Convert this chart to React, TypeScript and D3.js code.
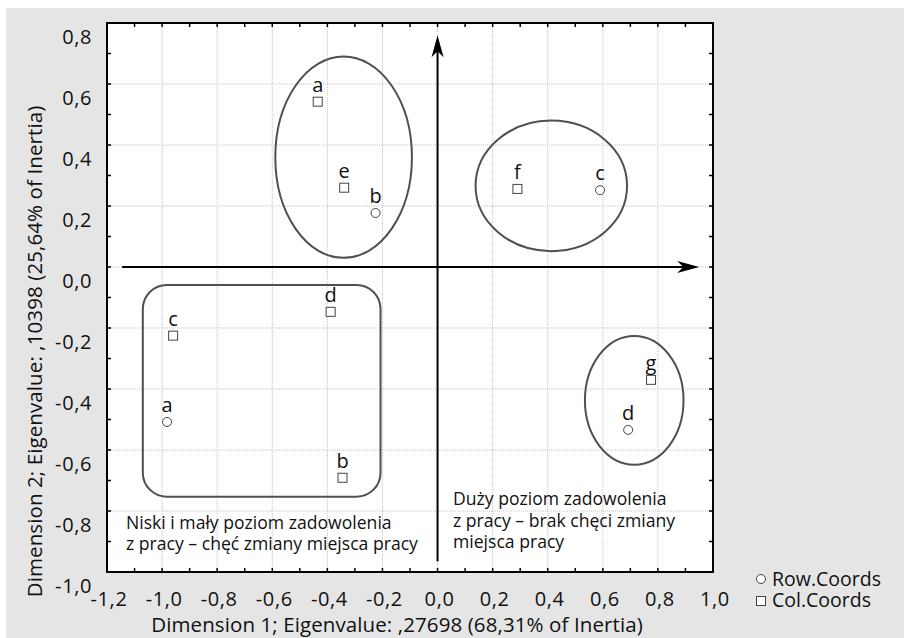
import React from "react";
import * as d3 from "d3";

const rowLabels = ["a", "b", "c", "d"];
const rowDim1 = [-0.982, -0.225, 0.59, 0.692];
const rowDim2 = [-0.508, 0.177, 0.252, -0.534];

const colLabels = ["a", "b", "c", "d", "e", "f", "g"];
const colDim1 = [-0.435, -0.345, -0.96, -0.388, -0.339, 0.29, 0.775];
const colDim2 = [0.542, -0.691, -0.225, -0.147, 0.26, 0.256, -0.37];

const xTicks = [-1.2, -1.0, -0.8, -0.6, -0.4, -0.2, 0.0, 0.2, 0.4, 0.6, 0.8, 1.0];
const yTicks = [-1.0, -0.8, -0.6, -0.4, -0.2, 0.0, 0.2, 0.4, 0.6, 0.8];

// group outlines in data units: [cx, cy, rx, ry]
const ellipses = [
  [-0.341, 0.36, 0.248, 0.33],
  [0.413, 0.266, 0.275, 0.214],
  [0.714, -0.437, 0.179, 0.211],
];
// rounded box in data units: [x0, y0, x1, y1]
const groupBox = [-1.07, -0.059, -0.207, -0.753];

const leftNote = ["Niski i mały poziom zadowolenia", "z pracy – chęć zmiany miejsca pracy"];
const rightNote = ["Duży poziom zadowolenia", "z pracy – brak chęci zmiany", "miejsca pracy"];

const xTitle = "Dimension 1; Eigenvalue: ,27698 (68,31% of Inertia)";
const yTitle = "Dimension 2; Eigenvalue: ,10398 (25,64% of Inertia)";

const FONT = "'Open Sans', sans-serif";
const fmt = (v: number) => v.toFixed(1).replace(".", ",").replace("-0,0", "0,0");

export default function App() {
  const W = 904, H = 638;
  const x = d3.scaleLinear().domain([-1.2, 1.0]).range([107, 713]);
  const y = d3.scaleLinear().domain([-1.0, 0.8]).range([572, 23]);
  const [x0, x1] = x.range();
  const [yB, yT] = y.range();
  const minorX = d3.range(-1.2, 1.0001, 0.1);
  const minorY = d3.range(-1.0, 0.8001, 0.1);
  const tl = 4;

  const hx0 = x(-1.145), hx1 = x(0.95), hy = y(0);
  const vx = x(0), vy0 = y(-0.965), vy1 = y(0.76);

  return (
    <svg width={W} height={H} style={{ position: "absolute", left: 0, top: 0 }} fontFamily={FONT}>
      <rect x={6} y={8} width={W - 6} height={H - 8} fill="#e5e5e5" />
      <rect x={x0} y={yT} width={x1 - x0} height={yB - yT} fill="#ffffff" />
      {/* grid */}
      {xTicks.map((t, i) => (
        <line key={"gx" + i} x1={x(t)} x2={x(t)} y1={yT} y2={yB} stroke="#c4c4c4" strokeWidth={1} strokeDasharray="1,1" />
      ))}
      {yTicks.map((t, i) => (
        <line key={"gy" + i} x1={x0} x2={x1} y1={y(t)} y2={y(t)} stroke="#c4c4c4" strokeWidth={1} strokeDasharray="1,1" />
      ))}
      {/* ticks */}
      {minorX.map((t, i) => (
        <g key={"tx" + i}>
          <line x1={x(t)} x2={x(t)} y1={yB} y2={yB - tl} stroke="#000" strokeWidth={1.5} />
          <line x1={x(t)} x2={x(t)} y1={yT} y2={yT + tl} stroke="#000" strokeWidth={1.5} />
        </g>
      ))}
      {minorY.map((t, i) => (
        <g key={"ty" + i}>
          <line x1={x0} x2={x0 + tl} y1={y(t)} y2={y(t)} stroke="#000" strokeWidth={1.5} />
          <line x1={x1} x2={x1 - tl} y1={y(t)} y2={y(t)} stroke="#000" strokeWidth={1.5} />
        </g>
      ))}
      <rect x={x0} y={yT} width={x1 - x0} height={yB - yT} fill="none" stroke="#000" strokeWidth={2} />

      {/* arrows */}
      <line x1={hx0} x2={hx1 - 12} y1={hy} y2={hy} stroke="#000" strokeWidth={2} />
      <path d={`M${hx1},${hy} L${hx1 - 22},${hy - 6} L${hx1 - 16},${hy} L${hx1 - 22},${hy + 6} Z`} fill="#000" />
      <line x1={vx} x2={vx} y1={vy0} y2={vy1 + 12} stroke="#000" strokeWidth={2} />
      <path d={`M${vx},${vy1} L${vx - 6},${vy1 + 22} L${vx},${vy1 + 16} L${vx + 6},${vy1 + 22} Z`} fill="#000" />

      {/* group outlines */}
      {ellipses.map((e, i) => (
        <ellipse key={"e" + i} cx={x(e[0])} cy={y(e[1])} rx={x(e[0] + e[2]) - x(e[0])} ry={y(e[1] - e[3]) - y(e[1])} fill="none" stroke="#505050" strokeWidth={2} />
      ))}
      <rect x={x(groupBox[0])} y={y(groupBox[1])} width={x(groupBox[2]) - x(groupBox[0])} height={y(groupBox[3]) - y(groupBox[1])} rx={24} ry={24} fill="none" stroke="#505050" strokeWidth={2} />

      {/* points */}
      {rowLabels.map((l, i) => (
        <g key={"r" + i}>
          <circle cx={x(rowDim1[i])} cy={y(rowDim2[i])} r={4.5} fill="#fff" stroke="#444" strokeWidth={1} />
          <text x={x(rowDim1[i])} y={y(rowDim2[i]) - 10} textAnchor="middle" fontSize={20} fill="#111">{l}</text>
        </g>
      ))}
      {colLabels.map((l, i) => (
        <g key={"c" + i}>
          <rect x={x(colDim1[i]) - 4.5} y={y(colDim2[i]) - 4.5} width={9} height={9} fill="#fff" stroke="#444" strokeWidth={1} />
          <text x={x(colDim1[i])} y={y(colDim2[i]) - 10} textAnchor="middle" fontSize={20} fill="#111">{l}</text>
        </g>
      ))}

      {/* notes */}
      {leftNote.map((s, i) => (
        <text key={"ln" + i} x={126} y={529 + i * 21} fontSize={17.6} fill="#111">{s}</text>
      ))}
      {rightNote.map((s, i) => (
        <text key={"rn" + i} x={453} y={505 + i * 21.5} fontSize={17.6} fill="#111">{s}</text>
      ))}

      {/* tick labels */}
      {xTicks.map((t, i) => (
        <text key={"lx" + i} x={x(t) + 2} y={606} textAnchor="middle" fontSize={20} letterSpacing={0.6} fill="#111">{fmt(t)}</text>
      ))}
      {yTicks.map((t, i) => (
        <text key={"ly" + i} x={92} y={y(t) + 20.5} textAnchor="end" fontSize={20} letterSpacing={0.6} fill="#111">{fmt(t)}</text>
      ))}

      {/* axis titles */}
      <text x={397} y={632} textAnchor="middle" fontSize={20.5} letterSpacing={0.1} fill="#111">{xTitle}</text>
      <text transform={`translate(41.5,351.5) rotate(-90)`} textAnchor="middle" fontSize={20.5} letterSpacing={0.1} fill="#111">{yTitle}</text>

      {/* legend */}
      <circle cx={761} cy={579} r={4.5} fill="#fff" stroke="#444" strokeWidth={1} />
      <text x={772} y={585.5} fontSize={19.5} fill="#111">Row.Coords</text>
      <rect x={756.5} y={596.5} width={9} height={9} fill="#fff" stroke="#444" strokeWidth={1} />
      <text x={772} y={607} fontSize={19.5} fill="#111">Col.Coords</text>
    </svg>
  );
}
